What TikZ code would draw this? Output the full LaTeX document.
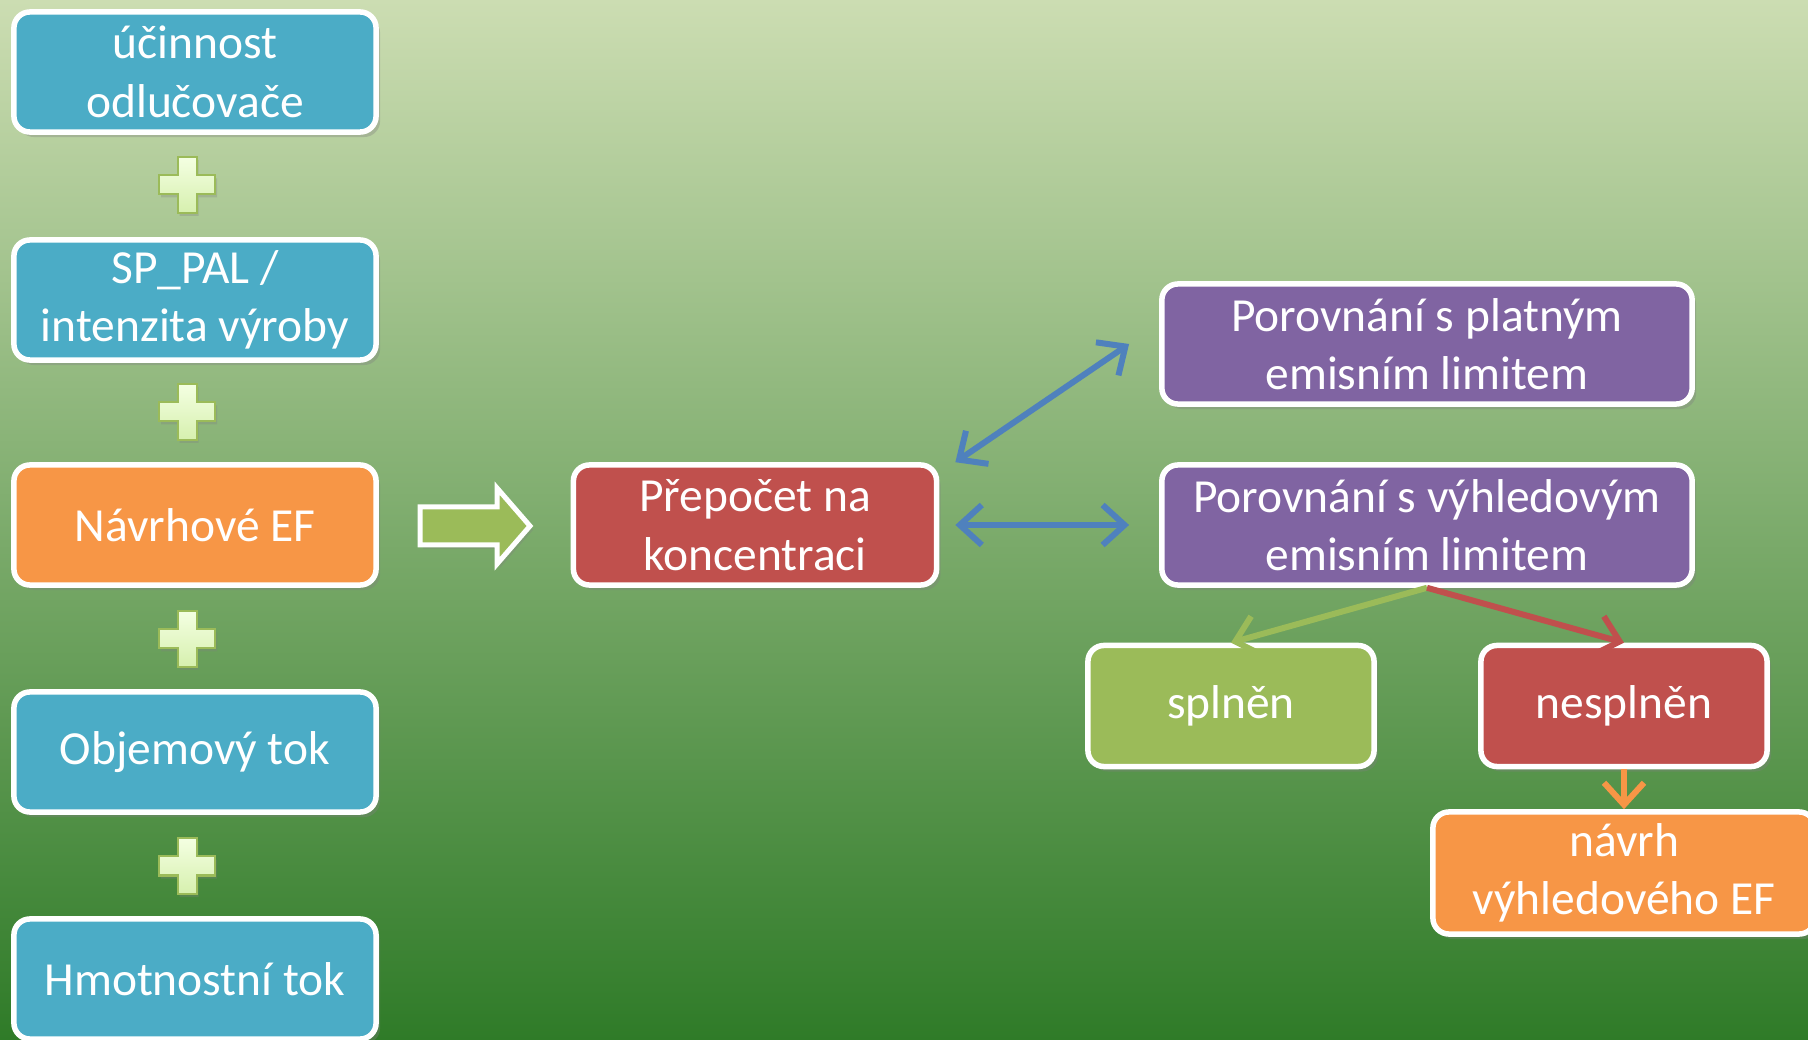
\documentclass[tikz,border=0pt]{standalone}
\usepackage{fontspec}
\setmainfont{Carlito}
\usepackage{tikz}
\usetikzlibrary{positioning,arrows.meta,shadows}
\definecolor{aqua}{HTML}{4BACC6}
\definecolor{orng}{HTML}{F79646}
\definecolor{redbox}{HTML}{C0504D}
\definecolor{purp}{HTML}{8064A2}
\definecolor{lgreen}{HTML}{9BBB59}
\definecolor{arrblue}{HTML}{4F81BD}
\definecolor{bgtop}{HTML}{CCDDB2}
\definecolor{bgmid}{HTML}{98BA6A}
\definecolor{bgbot}{HTML}{2F7B28}
\definecolor{plustop}{HTML}{F4FFE2}
\definecolor{plusbot}{HTML}{D6F0AE}

\begin{document}
\begin{tikzpicture}[x=0.01cm, y=-0.01cm,
  box/.style={draw=white, line width=0.055cm, rounded corners=0.16cm, text=white, align=center,
    font=\fontsize{13.5}{16.6}\selectfont, minimum height=1.2cm, inner sep=2pt,
    drop shadow={opacity=0.35, shadow xshift=0.04cm, shadow yshift=-0.05cm}},
  inbox/.style={box, fill=aqua, minimum width=3.62cm},
  efbox/.style={box, fill=orng},
  calcbox/.style={box, fill=redbox},
  cmpbox/.style={box, fill=purp, minimum width=5.3cm},
  okbox/.style={box, fill=lgreen, minimum width=2.86cm, minimum height=1.21cm},
  plusc/.style={draw=lgreen, line width=0.02cm, top color=plustop, bottom color=plusbot,
    drop shadow={opacity=0.3, shadow xshift=0.02cm, shadow yshift=-0.03cm}},
  arr/.style={line width=0.06cm, -{Straight Barb[length=0.22cm, width=0.4cm]}},
  barr/.style={arr, arrblue, {Straight Barb[length=0.22cm, width=0.4cm]}-{Straight Barb[length=0.22cm, width=0.4cm]}}]
\useasboundingbox (0,0) rectangle (1808,1040);
\clip (0,0) rectangle (1808,1040);
\shade[top color=bgtop, middle color=bgmid, bottom color=bgbot] (0,0) rectangle (1808,1040);
% left column
\node[inbox] (ucin) at (195,72)    {účinnost\\odlučovače};
\node[inbox] (sppal) at (195,300)  {SP\_PAL /\\intenzita výroby};
\node[inbox, fill=orng] (navef) at (195,525) {Návrhové EF};
\node[inbox] (objem) at (195,752)  {Objemový tok};
\node[inbox] (hmot) at (195,979)   {Hmotnostní tok};
\foreach \py in {185,412,639,866}
  \draw[plusc, shift={(187,\py)}] (-9.5,-28) -- (9.5,-28) -- (9.5,-9.5) -- (28,-9.5) -- (28,9.5) -- (9.5,9.5)
    -- (9.5,28) -- (-9.5,28) -- (-9.5,9.5) -- (-28,9.5) -- (-28,-9.5) -- (-9.5,-9.5) -- cycle;
% block arrow
\draw[draw=white, line width=0.05cm, fill=lgreen, line join=miter,
  drop shadow={opacity=0.3, shadow xshift=0.03cm, shadow yshift=-0.04cm}]
  (420,507) -- (497,507) -- (497,488) -- (530,526) -- (497,564) -- (497,545) -- (420,545) -- cycle;
% middle + right
\node[calcbox, minimum width=3.63cm] (prep) at (755,525) {Přepočet na\\koncentraci};
\node[cmpbox] (plat) at (1427,344) {Porovnání s platným\\emisním limitem};
\node[cmpbox] (vyhl) at (1427,525) {Porovnání s výhledovým\\emisním limitem};
\node[okbox] (spl) at (1231,706)   {splněn};
\node[okbox, fill=redbox] (nespl) at (1624,706) {nesplněn};
\node[efbox, minimum width=3.82cm, minimum height=1.22cm] (navrh) at (1624,873) {návrh\\výhledového EF};
\draw[barr] ([xshift=0.16cm]prep.north east) -- ([xshift=-0.3cm]plat.west);
\draw[barr] ([xshift=0.16cm]prep.east) -- ([xshift=-0.3cm]vyhl.west);
\draw[arr, lgreen] (vyhl.south) -- (spl.north);
\draw[arr, redbox] (vyhl.south) -- (nespl.north);
\draw[arr, orng] (nespl.south) -- (navrh.north);
\end{tikzpicture}
\end{document}
